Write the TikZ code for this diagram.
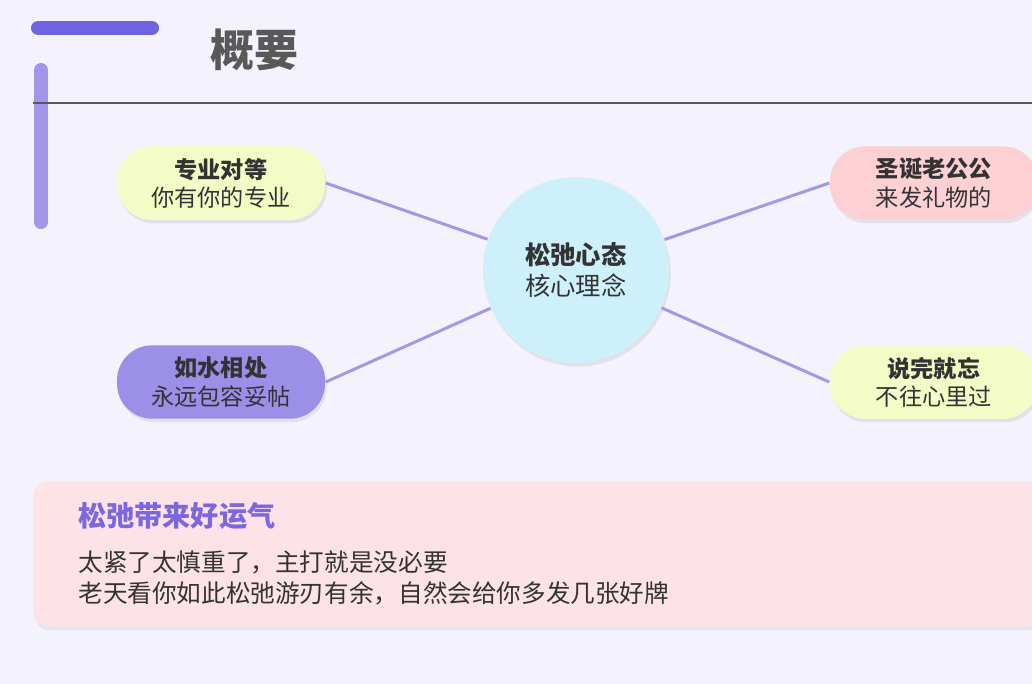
\documentclass[tikz,border=0pt]{standalone}
\usepackage{fontspec}
\setmainfont{Noto Sans CJK SC}
\usetikzlibrary{shadows}
\definecolor{bgc}{HTML}{F4F3FD}
\definecolor{linec}{HTML}{A397E6}
\definecolor{barc}{HTML}{6F63E0}
\definecolor{barlc}{HTML}{A196EA}
\definecolor{yelc}{HTML}{F3FCC6}
\definecolor{pinkc}{HTML}{FDD0D4}
\definecolor{purpc}{HTML}{9C8FE8}
\definecolor{cyanc}{HTML}{CDF0FB}
\definecolor{notec}{HTML}{FDE2E8}
\definecolor{headc}{HTML}{7B68E0}
\definecolor{textc}{HTML}{333333}
\tikzset{
  pill/.style={rounded corners=35*0.01cm, minimum width=208*0.01cm, minimum height=70*0.01cm,
    align=center, text=textc, font=\fontsize{6.6}{8}\selectfont,
    drop shadow={opacity=0.15, shadow xshift=0.5pt, shadow yshift=-1pt}},
  hub/.style={circle, fill=cyanc, minimum size=186*0.01cm, align=center, text=textc,
    font=\fontsize{7.2}{9}\selectfont,
    drop shadow={opacity=0.15, shadow xshift=0.5pt, shadow yshift=-1pt}},
  link/.style={draw=linec, line width=0.85pt}
}
\begin{document}
\begin{tikzpicture}[x=0.01cm, y=-0.01cm]
  \fill[bgc] (0,0) rectangle (1032,684);
  \useasboundingbox (0,0) rectangle (1032,684);
  % header
  \draw[barc, line width=4pt, line cap=round] (38,28) -- (152,28);
  \draw[barlc, line width=4pt, line cap=round] (41,70) -- (41,222);
  \draw[black!65, line width=0.4pt] (33,103) -- (1032,103);
  \node[anchor=west, text=black!65, font=\fontsize{12.5}{14}\selectfont\bfseries] (title) at (198,50) {概要};
  % mind map
  \node[hub] (core) at (576,270) {\textbf{松弛心态}\\核心理念};
  \node[pill, fill=yelc] (pro) at (221,183) {\textbf{专业对等}\\你有你的专业};
  \node[pill, fill=purpc] (water) at (221,382) {\textbf{如水相处}\\永远包容妥帖};
  \node[pill, fill=pinkc] (santa) at (934,183) {\textbf{圣诞老公公}\\来发礼物的};
  \node[pill, fill=yelc] (forget) at (934,382) {\textbf{说完就忘}\\不往心里过};
  \draw[link] (pro.east) -- (core);
  \draw[link] (water.east) -- (core);
  \draw[link] (santa.west) -- (core);
  \draw[link] (forget.west) -- (core);
  % note
  \node[fill=notec, rounded corners=4pt, minimum width=1007*0.01cm, minimum height=145*0.01cm,
    drop shadow={opacity=0.12, shadow xshift=0.5pt, shadow yshift=-1pt}] (note) at (537,554) {};
  \node[anchor=west, text=headc, font=\fontsize{8}{10}\selectfont\bfseries] (luck) at (66,516) {松弛带来好运气};
  \node[anchor=north west, text=textc, align=left, font=\fontsize{7}{8.8}\selectfont] (body) at (66,538)
    {太紧了太慎重了，主打就是没必要\\老天看你如此松弛游刃有余，自然会给你多发几张好牌};
\end{tikzpicture}
\end{document}
